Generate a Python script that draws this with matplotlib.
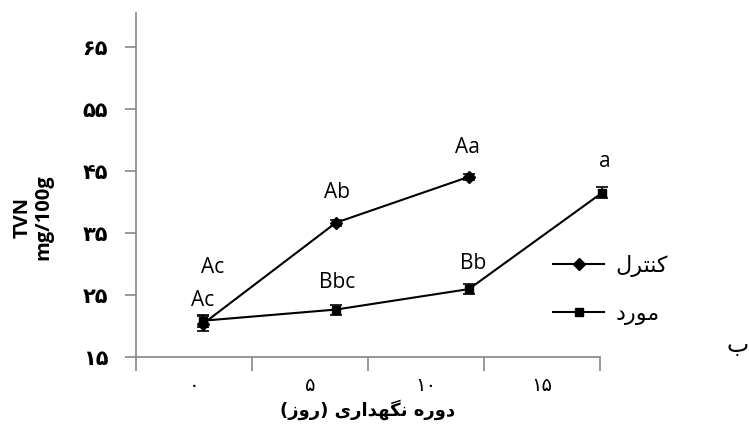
import numpy as np
import matplotlib
matplotlib.use('Agg')
import matplotlib.pyplot as plt
from matplotlib.lines import Line2D

# --------------------------
# data
# --------------------------
days = [0, 5, 10, 15]
control = [20.3, 36.6, 44.0]
control_err = [1.2, 0.5, 0.5]
moored = [20.8, 22.6, 25.9, 41.4]
moored_err = [1.0, 0.8, 0.8, 0.9]

yticks = [15, 25, 35, 45, 55, 65]
ytick_labels = ['۱۵', '۲۵', '۳۵', '۴۵', '۵۵', '۶۵']
xtick_labels = ['۰', '۵', '۱۰', '۱۵']

# letters above the points: (text, day, value)
letters = [('Ac', 0.35, 29.3), ('Ac', 0.0, 24.1), ('Ab', 5.05, 41.4),
           ('Aa', 9.95, 48.8), ('Bbc', 5.05, 26.9), ('Bb', 10.15, 30.1),
           ('a', 15.1, 46.4)]

# persian strings, already shaped (presentation forms, visual order)
LBL_CONTROL = '\uFEDD\uFEAE\uFE98\uFEE8\uFB90'          # کنترل
LBL_MOORED = '\uFEA9\uFEAD\uFEEE\uFEE3'                 # مورد
LBL_X = ('(\uFEAF\uFEED\uFEAD) '
         '\uFBFC\uFEAD\uFE8D\uFEAA\uFEEC\uFB95\uFEE7 '
         '\uFEE9\uFEAD\uFEED\uFEA9')                     # دوره نگهداری (روز)
LBL_B = '\uFE8F'                                         # ب

AXIS_GREY = '#868686'
FONT_LAT = ['Open Sans', 'DejaVu Sans']
FONT_FA = ['DejaVu Sans']

plt.rcParams['font.family'] = FONT_FA

fig = plt.figure(figsize=(7.49, 4.43), dpi=100)
ax = fig.add_axes([136 / 749, 1 - 356.7 / 443, (600 - 136) / 749, (356.7 - 13) / 443])

ax.errorbar(days[:len(control)], control, yerr=control_err, color='black', marker='D',
            markersize=6, linewidth=1.5, capsize=4, elinewidth=1.2, capthick=1.2,
            clip_on=False, zorder=3)
ax.errorbar(days, moored, yerr=moored_err, color='black', marker='s',
            markersize=6, linewidth=1.5, capsize=4, elinewidth=1.2, capthick=1.2,
            clip_on=False, zorder=3)

for txt, d, v in letters:
    ax.text(d, v, txt, ha='center', va='center', fontsize=15, family=FONT_LAT)

# axes limits / ticks
x_lo, x_hi = -2.52, 14.93
ax.set_xlim(x_lo, x_hi)
ax.set_ylim(15, 70.4)

bounds = np.linspace(x_lo, x_hi, 5)
ax.set_xticks(bounds)
ax.set_xticklabels([])
ax.set_xticks((bounds[:-1] + bounds[1:]) / 2, minor=True)
ax.set_xticklabels(xtick_labels, minor=True, fontsize=14)
ax.tick_params(axis='x', which='major', direction='out', length=10, color=AXIS_GREY, width=1.2)
ax.tick_params(axis='x', which='minor', length=0, pad=14)

ax.set_yticks(yticks)
ax.set_yticklabels(ytick_labels, fontsize=15, fontweight='bold')
ax.tick_params(axis='y', direction='out', length=8, color=AXIS_GREY, width=1.2, pad=12)

for s in ['top', 'right']:
    ax.spines[s].set_visible(False)
for s in ['left', 'bottom']:
    ax.spines[s].set_color(AXIS_GREY)
    ax.spines[s].set_linewidth(1.2)

ax.set_xlabel(LBL_X, fontsize=13, fontweight='bold', labelpad=3)
fig.text(33 / 749, 1 - 217 / 443, 'TVN\nmg/100g', rotation=90, ha='center', va='center',
         fontsize=14.5, fontweight='bold', family=FONT_LAT, linespacing=1.05)

handles = [Line2D([], [], color='black', marker='D', markersize=6, linewidth=1.5),
           Line2D([], [], color='black', marker='s', markersize=6, linewidth=1.5)]
ax.legend(handles, [LBL_CONTROL, LBL_MOORED], loc='center left',
          bbox_to_anchor=(553 / 749, 1 - 290 / 443), bbox_transform=fig.transFigure,
          frameon=False, fontsize=16, handlelength=2.3, labelspacing=1.2,
          borderpad=0, borderaxespad=0, handletextpad=0.5)

fig.text(738 / 749, 1 - 345 / 443, LBL_B, ha='center', va='center', fontsize=17)

plt.savefig('out.png', dpi=100)
plt.close()
